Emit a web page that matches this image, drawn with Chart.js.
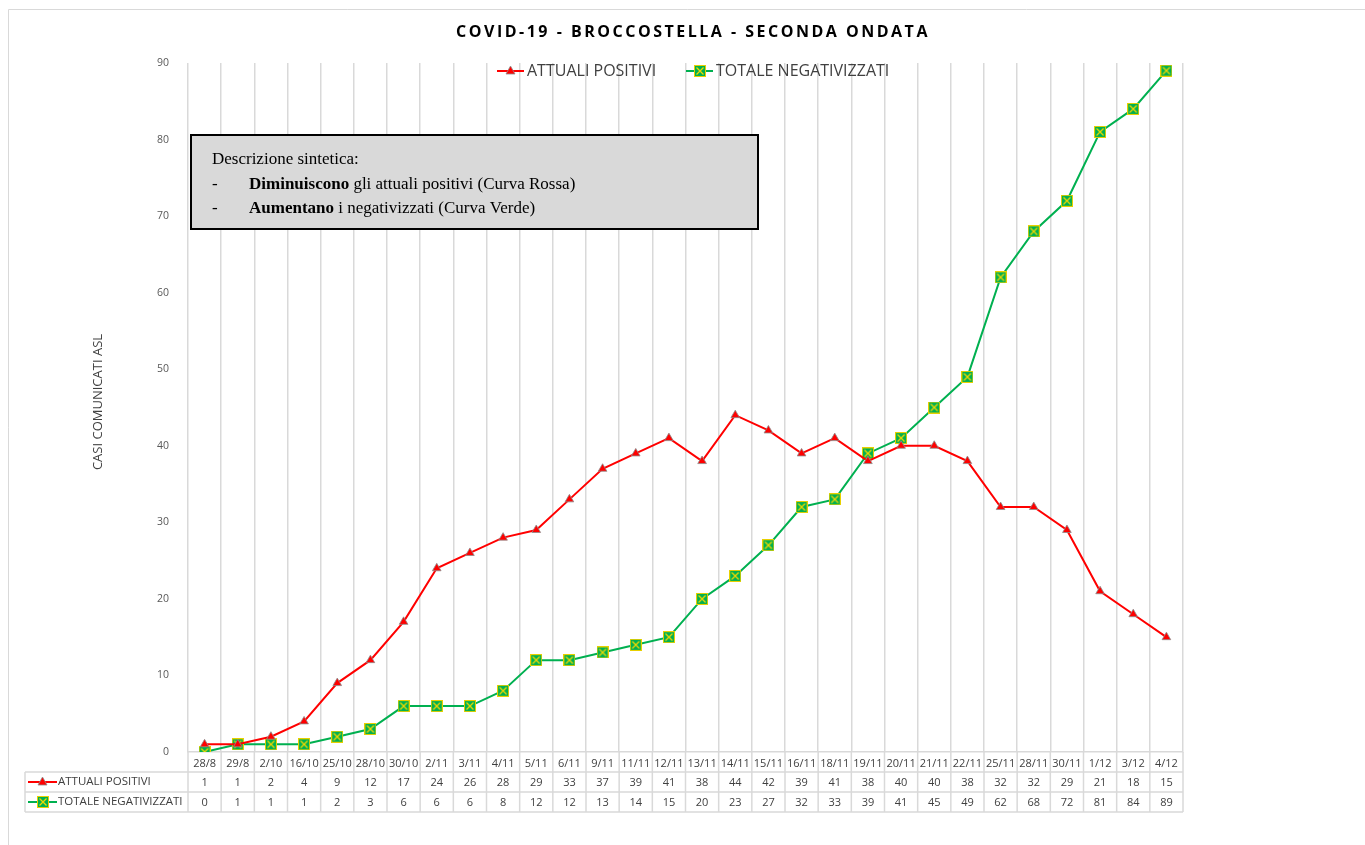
<!DOCTYPE html>
<html>
<head>
<meta charset="utf-8">
<script src="https://cdn.jsdelivr.net/npm/chart.js@4"></script>
<style>
  html, body { margin: 0; padding: 0; background: #fff; }
  #wrap { width: 1365px; height: 845px; }
</style>
</head>
<body>
<div id="wrap"><canvas id="myChart" width="1365" height="845"></canvas></div>
<script>
const dates = ['28/8','29/8','2/10','16/10','25/10','28/10','30/10','2/11','3/11','4/11','5/11','6/11','9/11','11/11','12/11','13/11','14/11','15/11','16/11','18/11','19/11','20/11','21/11','22/11','25/11','28/11','30/11','1/12','3/12','4/12'];
const attualiPositivi = [1,1,2,4,9,12,17,24,26,28,29,33,37,39,41,38,44,42,39,41,38,40,40,38,32,32,29,21,18,15];
const totaleNegativizzati = [0,1,1,1,2,3,6,6,6,8,12,12,13,14,15,20,23,27,32,33,39,41,45,49,62,68,72,81,84,89];
const seriesNames = ['ATTUALI POSITIVI', 'TOTALE NEGATIVIZZATI'];
const chartTitle = 'COVID-19 - BROCCOSTELLA - SECONDA ONDATA';
const yTitle = 'CASI COMUNICATI ASL';
const noteLines = [
    [{t: 'Descrizione sintetica:', b: false}],
    [{t: '-', b: false}, {t: 'Diminuiscono', b: true}, {t: ' gli attuali positivi (Curva Rossa)', b: false}],
    [{t: '-', b: false}, {t: 'Aumentano', b: true}, {t: ' i negativizzati (Curva Verde)', b: false}]
];

const RED = '#FF0000';
const GREEN = '#00B050';
const GRID = '#D9D9D9';
const TXT = '#404040';
const FONT = '"Open Sans", sans-serif';

// green square marker with yellow cross
function makeSquare(size) {
    const c = document.createElement('canvas');
    c.width = size; c.height = size;
    const g = c.getContext('2d');
    g.fillStyle = '#E8D000';
    g.fillRect(0, 0, size, size);
    g.fillStyle = GREEN;
    g.fillRect(1, 1, size - 2, size - 2);
    g.strokeStyle = '#F0D800';
    g.lineWidth = 1.3;
    g.beginPath();
    g.moveTo(2.5, 2.5); g.lineTo(size - 2.5, size - 2.5);
    g.moveTo(size - 2.5, 2.5); g.lineTo(2.5, size - 2.5);
    g.stroke();
    return c;
}
const squareImg = makeSquare(12);

function drawTriangle(ctx, x, y) {
    ctx.save();
    ctx.fillStyle = RED;
    ctx.strokeStyle = 'rgba(140,140,140,0.8)';
    ctx.lineWidth = 1;
    ctx.beginPath();
    ctx.moveTo(x, y - 5);
    ctx.lineTo(x + 4.5, y + 3);
    ctx.lineTo(x - 4.5, y + 3);
    ctx.closePath();
    ctx.fill();
    ctx.stroke();
    ctx.restore();
}

function drawKey(ctx, idx, x, y, w) {
    ctx.save();
    ctx.strokeStyle = idx === 0 ? RED : GREEN;
    ctx.lineWidth = 2;
    ctx.beginPath();
    ctx.moveTo(x, y); ctx.lineTo(x + w, y);
    ctx.stroke();
    ctx.restore();
    if (idx === 0) drawTriangle(ctx, x + w / 2, y);
    else ctx.drawImage(squareImg, Math.round(x + w / 2 - 6), Math.round(y - 6));
}

const extras = {
    id: 'extras',
    beforeDraw(chart) {
        const ctx = chart.ctx;
        ctx.save();
        ctx.strokeStyle = GRID;
        ctx.lineWidth = 1;
        ctx.beginPath();
        ctx.moveTo(8.5, 850); ctx.lineTo(8.5, 9.5); ctx.lineTo(1370, 9.5);
        ctx.stroke();
        ctx.restore();
    },
    afterDatasetsDraw(chart) {
        const ctx = chart.ctx;
        const x = chart.scales.x;
        const area = chart.chartArea;
        ctx.save();

        // title
        ctx.fillStyle = '#000';
        ctx.font = 'bold 16px ' + FONT;
        ctx.letterSpacing = '2.5px';
        ctx.textAlign = 'center';
        ctx.textBaseline = 'middle';
        ctx.fillText(chartTitle, 693, 32);
        ctx.letterSpacing = '0px';

        // legend
        ctx.font = '16px ' + FONT;
        ctx.fillStyle = TXT;
        ctx.textAlign = 'left';
        drawKey(ctx, 0, 497, 71, 27);
        ctx.fillText(seriesNames[0], 527, 71);
        drawKey(ctx, 1, 686, 71, 27);
        ctx.fillText(seriesNames[1], 716, 71);

        // y title
        ctx.save();
        ctx.translate(98, 402);
        ctx.rotate(-Math.PI / 2);
        ctx.font = '13px ' + FONT;
        ctx.textAlign = 'center';
        ctx.fillText(yTitle, 0, 0);
        ctx.restore();

        // note box
        ctx.fillStyle = '#D9D9D9';
        ctx.fillRect(191, 135, 567, 94);
        ctx.strokeStyle = '#000';
        ctx.lineWidth = 2;
        ctx.strokeRect(191, 135, 567, 94);
        ctx.fillStyle = '#000';
        ctx.textBaseline = 'alphabetic';
        const lineY = [164, 189, 213];
        noteLines.forEach((parts, i) => {
            let px = 212;
            parts.forEach(p => {
                ctx.font = (p.b ? 'bold ' : '') + '17px "Liberation Serif", serif';
                if (p.t === '-') { ctx.fillText(p.t, px, lineY[i]); px = 249; return; }
                ctx.fillText(p.t, px, lineY[i]);
                px += ctx.measureText(p.t).width;
            });
        });

        // data table
        const top = area.bottom, r1 = 772, r2 = 792, r3 = 812;
        const half = (x.getPixelForValue(1) - x.getPixelForValue(0)) / 2;
        ctx.strokeStyle = GRID;
        ctx.lineWidth = 1.5;
        ctx.beginPath();
        [r1, r2, r3].forEach(yy => { ctx.moveTo(25, yy); ctx.lineTo(area.right, yy); });
        ctx.moveTo(25, r1); ctx.lineTo(25, r3);
        for (let i = 0; i <= dates.length; i++) {
            const bx = i < dates.length ? x.getPixelForValue(i) - half : x.getPixelForValue(dates.length - 1) + half;
            ctx.moveTo(bx, top); ctx.lineTo(bx, r3);
        }
        ctx.stroke();

        ctx.font = '11.5px ' + FONT;
        ctx.fillStyle = TXT;
        ctx.textBaseline = 'middle';
        ctx.textAlign = 'left';
        drawKey(ctx, 0, 28, (r1 + r2) / 2, 29);
        ctx.fillText(seriesNames[0], 58, (r1 + r2) / 2);
        drawKey(ctx, 1, 28, (r2 + r3) / 2, 29);
        ctx.fillText(seriesNames[1], 58, (r2 + r3) / 2);
        ctx.textAlign = 'center';
        ctx.font = '11px ' + FONT;
        dates.forEach((d, i) => {
            const cx = x.getPixelForValue(i);
            ctx.fillText(String(attualiPositivi[i]), cx, (r1 + r2) / 2 + 1);
            ctx.fillText(String(totaleNegativizzati[i]), cx, (r2 + r3) / 2 + 1);
        });
        ctx.restore();
    }
};

document.addEventListener('DOMContentLoaded', function() {
    const ctx = document.getElementById('myChart').getContext('2d');
    new Chart(ctx, {
        type: 'line',
        data: {
            labels: dates,
            datasets: [{
                label: seriesNames[0],
                data: attualiPositivi,
                borderColor: RED,
                borderWidth: 2,
                pointStyle: 'triangle',
                pointRadius: 5,
                pointBackgroundColor: RED,
                pointBorderColor: 'rgba(140,140,140,0.8)',
                pointBorderWidth: 1,
                tension: 0
            }, {
                label: seriesNames[1],
                data: totaleNegativizzati,
                borderColor: GREEN,
                borderWidth: 2,
                pointStyle: squareImg,
                tension: 0
            }]
        },
        options: {
            responsive: false,
            animation: false,
            layout: { padding: { left: 0, right: 182, top: 63, bottom: 0 } },
            plugins: {
                legend: { display: false },
                title: { display: false },
                tooltip: { enabled: false }
            },
            scales: {
                x: {
                    offset: true,
                    grid: { offset: true, color: GRID, lineWidth: 1.5, drawTicks: false },
                    border: { color: GRID, width: 1.5 },
                    ticks: {
                        color: TXT,
                        font: { family: FONT, size: 11 },
                        padding: 5,
                        maxRotation: 0,
                        autoSkip: false
                    },
                    afterFit: s => { s.height = 93; }
                },
                y: {
                    min: 0,
                    max: 90,
                    grid: { display: false },
                    border: { display: false },
                    ticks: {
                        stepSize: 10,
                        color: '#595959',
                        font: { family: FONT, size: 10.5 },
                        padding: 11
                    },
                    afterFit: s => { s.width = 188; }
                }
            }
        },
        plugins: [extras]
    });
});
</script>
</body>
</html>
